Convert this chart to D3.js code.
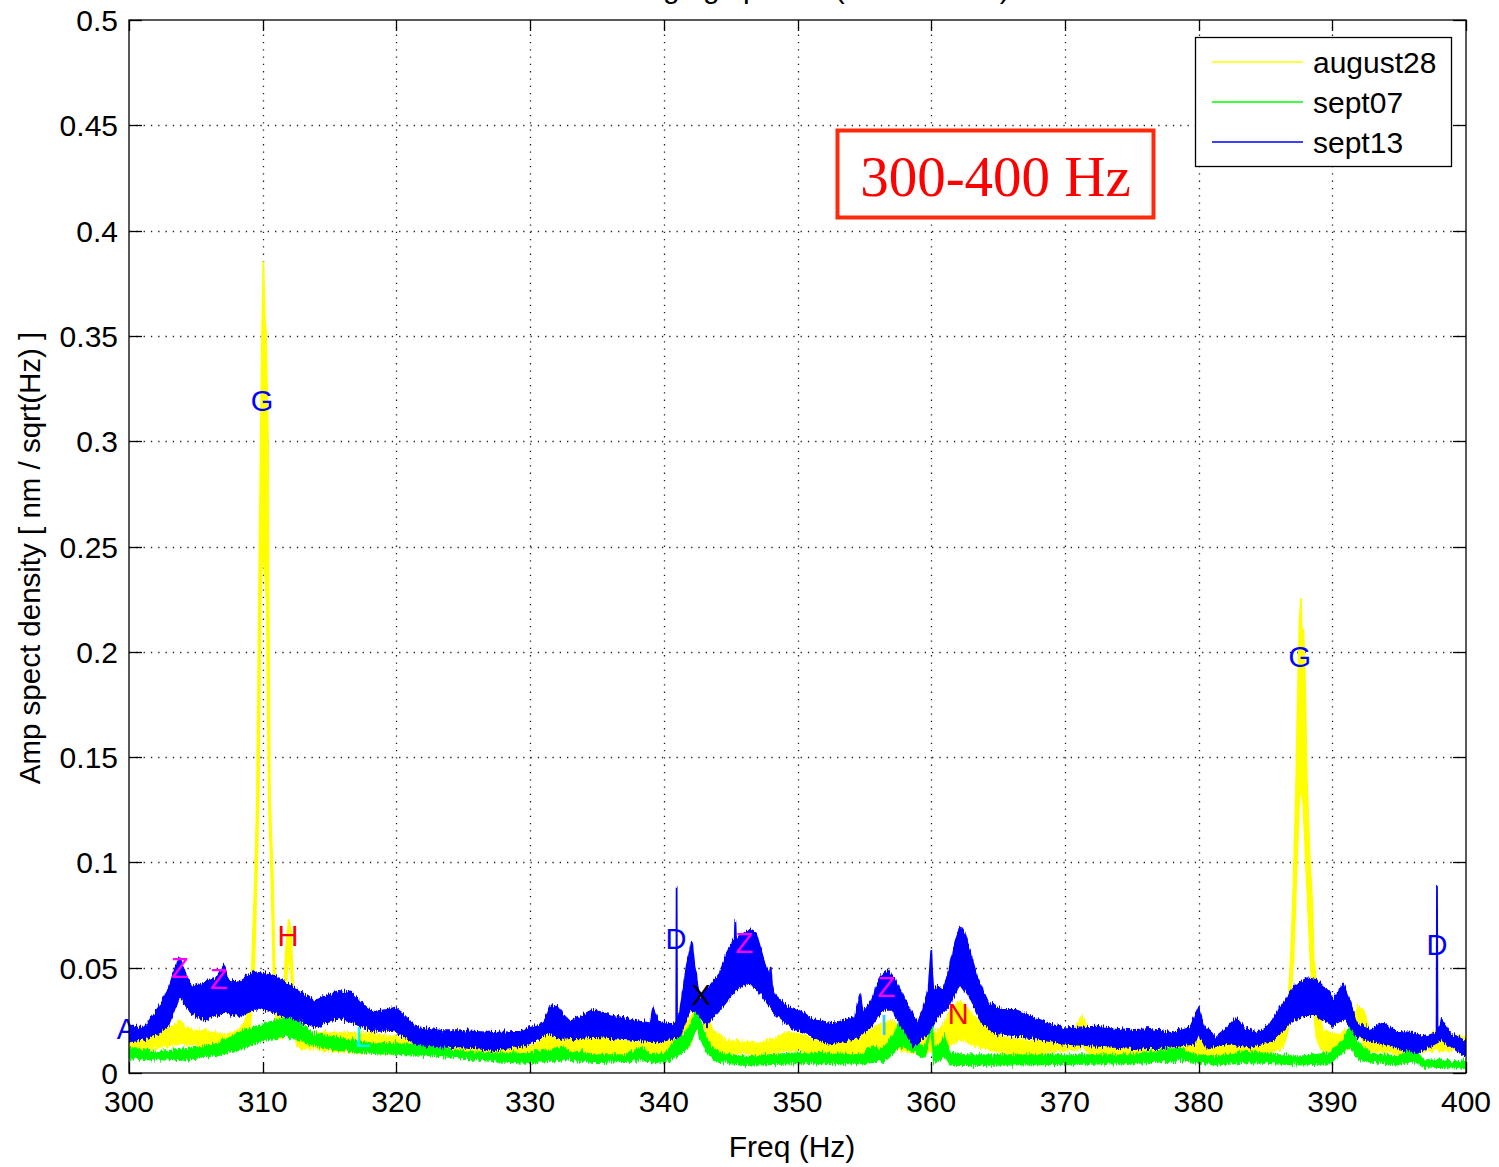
<!DOCTYPE html>
<html>
<head>
<meta charset="utf-8">
<script src="https://cdn.jsdelivr.net/npm/d3@7"></script>
<style>
  html, body { margin: 0; padding: 0; background: #fff; }
  svg { display: block; }
  text { font-family: "Liberation Sans", Arial, Helvetica, sans-serif; }
</style>
</head>
<body>
<svg id="chart" width="1499" height="1167"></svg>
<script>
// ---- axis ticks ----
const freqTicks = [300, 310, 320, 330, 340, 350, 360, 370, 380, 390, 400];
const ampTicks = [0, 0.05, 0.1, 0.15, 0.2, 0.25, 0.3, 0.35, 0.4, 0.45, 0.5];
const ampTickLabels = ["0", "0.05", "0.1", "0.15", "0.2", "0.25", "0.3", "0.35", "0.4", "0.45", "0.5"];

// ---- series: each spectrum as upper / lower envelope of its noisy trace, [Hz, nm/sqrt(Hz)] ----
const seriesNames = ["august28", "sept07", "sept13"];
const seriesColors = ["#ffff00", "#00ff00", "#0000ff"];

const august28Upper = [
  [300.0, 0.014], [301.2, 0.017], [302.2, 0.020], [303.3, 0.022], [303.8, 0.025], [304.3, 0.021],
  [305.7, 0.020], [307.2, 0.018], [308.0, 0.020], [308.5, 0.022], [308.9, 0.0285], [309.18, 0.049],
  [309.42, 0.092], [309.57, 0.13], [309.72, 0.225], [309.85, 0.30], [309.95, 0.35], [310.05, 0.385],
  [310.15, 0.36], [310.25, 0.35], [310.4, 0.30], [310.45, 0.225], [310.55, 0.13], [310.77, 0.092],
  [310.9, 0.049], [311.1, 0.035], [311.3, 0.030], [311.55, 0.035], [311.75, 0.06], [311.95, 0.0727],
  [312.1, 0.068], [312.3, 0.04], [312.5, 0.022], [313.5, 0.019], [316.0, 0.019], [318.0, 0.019],
  [320.0, 0.017], [322.0, 0.015], [324.3, 0.014], [324.6, 0.021], [324.9, 0.018], [326.0, 0.014],
  [327.25, 0.0133], [329.7, 0.0125], [330.5, 0.014], [331.2, 0.018], [332.2, 0.0165], [334.7, 0.0172],
  [337.2, 0.0149], [339.7, 0.014], [341.0, 0.0165], [342.2, 0.029], [342.9, 0.036], [343.6, 0.021],
  [344.7, 0.0157], [347.2, 0.014], [349.2, 0.019], [350.0, 0.019], [351.3, 0.0157], [353.6, 0.0172],
  [354.8, 0.018], [355.8, 0.022], [357.1, 0.025], [358.0, 0.020], [359.3, 0.019], [360.3, 0.019],
  [361.0, 0.0236], [361.6, 0.0315], [362.2, 0.034], [363.0, 0.0283], [364.0, 0.022], [365.3, 0.0172],
  [367.3, 0.0157], [369.8, 0.014], [370.8, 0.022], [371.3, 0.0267], [371.8, 0.021], [373.5, 0.0135],
  [374.9, 0.0157], [377.4, 0.0125], [379.8, 0.0157], [382.4, 0.0149], [384.8, 0.0172], [385.9, 0.019],
  [386.3, 0.022], [386.6, 0.027], [386.8, 0.043], [386.9, 0.055], [387.1, 0.09], [387.3, 0.139],
  [387.4, 0.174], [387.55, 0.215], [387.66, 0.225], [387.75, 0.20], [387.85, 0.21], [388.0, 0.174],
  [388.1, 0.139], [388.33, 0.0996], [388.5, 0.082], [388.6, 0.0553], [388.8, 0.043], [389.0, 0.030],
  [389.3, 0.020], [390.5, 0.018], [391.5, 0.022], [391.9, 0.032], [392.3, 0.030], [392.8, 0.020],
  [394.0, 0.018], [396.0, 0.015], [397.0, 0.017], [397.8, 0.020], [398.6, 0.015], [399.2, 0.018],
  [400.0, 0.017]
];
const august28Lower = [
  [300.0, 0.011], [302.2, 0.012], [303.8, 0.014], [305.7, 0.013], [307.2, 0.012], [308.4, 0.014],
  [309.0, 0.016], [309.35, 0.045], [309.55, 0.092], [309.7, 0.13], [309.85, 0.225], [310.0, 0.25],
  [310.3, 0.225], [310.45, 0.13], [310.65, 0.092], [310.8, 0.049], [311.0, 0.025], [311.2, 0.016],
  [311.5, 0.016], [311.8, 0.045], [311.98, 0.058], [312.15, 0.045], [312.35, 0.02], [312.6, 0.012],
  [316.0, 0.010], [320.0, 0.009], [325.0, 0.0094], [327.25, 0.0085], [330.0, 0.0085], [332.0, 0.0095],
  [335.0, 0.009], [340.0, 0.009], [341.8, 0.012], [342.5, 0.022], [342.9, 0.027], [343.3, 0.016],
  [344.0, 0.010], [347.0, 0.009], [350.0, 0.011], [352.0, 0.009], [355.0, 0.009], [357.0, 0.012],
  [359.0, 0.009], [361.0, 0.012], [362.2, 0.0157], [363.5, 0.0125], [365.0, 0.010], [367.3, 0.0085],
  [371.3, 0.012], [372.0, 0.009], [375.0, 0.0085], [380.0, 0.0085], [385.0, 0.009], [386.3, 0.012],
  [386.75, 0.022], [387.1, 0.055], [387.3, 0.09], [387.5, 0.125], [387.65, 0.14], [387.85, 0.125],
  [388.1, 0.09], [388.35, 0.055], [388.6, 0.03], [388.85, 0.016], [389.3, 0.010], [391.5, 0.012],
  [392.0, 0.018], [392.5, 0.011], [395.0, 0.009], [398.0, 0.011], [400.0, 0.010]
];

const sept07Upper = [
  [300.0, 0.0117], [302.2, 0.010], [304.7, 0.0117], [306.7, 0.014], [308.4, 0.0196], [310.2, 0.0236],
  [311.7, 0.026], [312.7, 0.0244], [313.7, 0.0189], [315.7, 0.0165], [318.2, 0.0141], [322.1, 0.0133],
  [324.76, 0.0101], [327.25, 0.0093], [329.7, 0.0093], [332.2, 0.0117], [332.5, 0.0125], [333.2, 0.009],
  [333.8, 0.0101], [334.7, 0.0085], [337.2, 0.0085], [338.3, 0.0125], [339.0, 0.0085], [340.0, 0.0093],
  [340.7, 0.014], [341.7, 0.0196], [342.2, 0.0252], [342.4, 0.030], [342.7, 0.025], [343.2, 0.0157],
  [343.9, 0.0101], [345.9, 0.0077], [350.0, 0.0094], [354.8, 0.0085], [355.55, 0.0125], [356.35, 0.011],
  [357.3, 0.0189], [357.55, 0.0236], [358.0, 0.0189], [358.7, 0.0157], [359.5, 0.012], [359.9, 0.0189],
  [360.0, 0.0315], [360.2, 0.011], [360.7, 0.014], [361.0, 0.018], [361.4, 0.0094], [362.2, 0.0085],
  [370.0, 0.0085], [374.9, 0.0085], [378.6, 0.0117], [379.8, 0.0085], [381.3, 0.0077], [383.5, 0.0101],
  [384.8, 0.0093], [387.3, 0.0077], [389.8, 0.0093], [390.8, 0.0157], [391.3, 0.022], [391.8, 0.0149],
  [392.8, 0.0093], [394.8, 0.0077], [396.1, 0.0117], [396.8, 0.0062], [400.0, 0.0055]
];
const sept07Lower = [
  [300.0, 0.007], [302.2, 0.0062], [304.7, 0.007], [306.7, 0.0085], [308.4, 0.0117], [310.2, 0.0157],
  [311.7, 0.0172], [312.7, 0.016], [313.7, 0.0133], [315.7, 0.0109], [318.2, 0.0094], [322.1, 0.0085],
  [325.4, 0.007], [327.25, 0.0055], [330.0, 0.0047], [332.5, 0.0065], [335.0, 0.005], [338.3, 0.006],
  [340.0, 0.0047], [341.7, 0.011], [342.5, 0.022], [342.7, 0.0172], [343.2, 0.0101], [343.9, 0.0055],
  [345.9, 0.0038], [350.0, 0.0046], [355.0, 0.0046], [356.5, 0.006], [357.5, 0.012], [358.0, 0.0125],
  [359.5, 0.007], [360.0, 0.022], [360.2, 0.005], [361.0, 0.008], [361.4, 0.004], [362.2, 0.0038],
  [370.0, 0.0042], [375.0, 0.0046], [378.6, 0.006], [381.3, 0.004], [384.0, 0.005], [387.3, 0.004],
  [389.8, 0.0045], [391.3, 0.013], [392.0, 0.006], [394.8, 0.004], [396.1, 0.006], [396.8, 0.003],
  [400.0, 0.0023]
];

const sept13Upper = [
  [300.0, 0.022], [301.2, 0.022], [302.2, 0.031], [302.9, 0.039], [303.5, 0.051], [303.8, 0.055],
  [304.2, 0.047], [304.7, 0.041], [305.7, 0.043], [306.5, 0.045], [307.1, 0.051], [307.4, 0.044],
  [308.2, 0.043], [309.0, 0.047], [309.7, 0.048], [310.5, 0.047], [311.2, 0.045], [312.0, 0.042],
  [312.7, 0.039], [313.9, 0.034], [314.8, 0.037], [315.7, 0.039], [316.7, 0.038], [317.4, 0.033],
  [318.2, 0.029], [319.3, 0.030], [319.9, 0.031], [320.5, 0.028], [321.4, 0.022], [323.4, 0.020],
  [325.4, 0.0198], [327.25, 0.019], [329.2, 0.0196], [331.0, 0.0236], [331.5, 0.0315], [332.0, 0.032],
  [332.5, 0.0275], [333.0, 0.0244], [333.7, 0.0267], [334.7, 0.030], [336.0, 0.0275], [337.7, 0.025],
  [339.0, 0.0236], [339.2, 0.0307], [339.6, 0.0244], [340.7, 0.0228], [340.93, 0.024], [340.96, 0.088],
  [340.99, 0.026], [341.2, 0.0283], [341.7, 0.0505], [342.1, 0.0624], [342.3, 0.0505], [342.7, 0.0347],
  [343.2, 0.0394], [344.2, 0.0473], [344.7, 0.0568], [345.3, 0.064], [345.35, 0.0718], [345.4, 0.064],
  [346.4, 0.0679], [346.9, 0.0663], [347.4, 0.0552], [347.9, 0.045], [348.0, 0.050], [348.1, 0.042],
  [348.2, 0.0378], [349.2, 0.0315], [350.0, 0.030], [351.3, 0.025], [352.8, 0.0236], [354.3, 0.0267],
  [354.7, 0.037], [354.9, 0.028], [355.55, 0.0347], [356.2, 0.0457], [356.8, 0.0489], [357.3, 0.0442],
  [357.8, 0.0378], [358.4, 0.030], [359.0, 0.0236], [359.4, 0.0307], [359.8, 0.0394], [360.0, 0.058],
  [360.15, 0.0394], [360.5, 0.041], [360.9, 0.039], [361.3, 0.048], [361.8, 0.0616], [362.15, 0.0695],
  [362.5, 0.0663], [363.0, 0.0552], [363.5, 0.0442], [364.3, 0.0331], [365.3, 0.030], [366.3, 0.030],
  [367.8, 0.026], [369.8, 0.0212], [372.3, 0.022], [374.9, 0.0204], [376.4, 0.021], [377.9, 0.019],
  [379.4, 0.022], [380.0, 0.0307], [380.4, 0.022], [381.3, 0.0172], [382.05, 0.021], [382.8, 0.026],
  [383.5, 0.021], [384.3, 0.019], [385.3, 0.0228], [386.0, 0.030], [386.8, 0.0378], [387.3, 0.0418],
  [388.1, 0.045], [388.8, 0.0442], [389.6, 0.0394], [390.1, 0.0347], [390.8, 0.0426], [391.3, 0.0347],
  [391.8, 0.0236], [392.8, 0.021], [393.8, 0.0236], [394.8, 0.0196], [396.1, 0.019], [396.8, 0.017],
  [397.8, 0.019], [397.83, 0.089], [397.87, 0.020], [398.2, 0.0252], [398.8, 0.019], [399.8, 0.0157],
  [400.0, 0.0155]
];
const sept13Lower = [
  [300.0, 0.015], [301.2, 0.016], [302.2, 0.019], [302.9, 0.022], [303.8, 0.037], [304.7, 0.028],
  [305.7, 0.025], [307.1, 0.029], [308.2, 0.027], [309.7, 0.031], [311.2, 0.028], [312.7, 0.025],
  [313.9, 0.022], [315.7, 0.026], [316.7, 0.024], [318.2, 0.020], [319.9, 0.020], [321.4, 0.014],
  [323.4, 0.0125], [325.4, 0.012], [327.25, 0.011], [329.7, 0.0133], [331.5, 0.019], [332.5, 0.0157],
  [334.7, 0.0172], [337.7, 0.0157], [339.7, 0.0149], [341.2, 0.0172], [341.95, 0.030], [342.45, 0.029],
  [343.2, 0.0228], [344.2, 0.030], [345.45, 0.040], [346.4, 0.0434], [347.4, 0.0362], [348.4, 0.0275],
  [349.6, 0.0212], [350.4, 0.0196], [352.3, 0.014], [354.3, 0.0157], [355.55, 0.0228], [356.35, 0.030],
  [357.1, 0.030], [357.8, 0.022], [358.7, 0.0125], [359.8, 0.0189], [360.5, 0.0267], [361.3, 0.0315],
  [362.15, 0.0426], [363.0, 0.0347], [363.8, 0.0236], [364.8, 0.0189], [367.3, 0.0172], [369.8, 0.014],
  [375.5, 0.0117], [377.4, 0.012], [379.7, 0.014], [380.0, 0.0189], [380.6, 0.012], [382.4, 0.014],
  [383.9, 0.0125], [385.6, 0.0157], [386.8, 0.0236], [387.9, 0.0275], [388.8, 0.0275], [390.0, 0.0228],
  [391.0, 0.026], [391.8, 0.0172], [393.8, 0.014], [396.3, 0.0094], [398.2, 0.0157], [399.8, 0.0085],
  [400.0, 0.0085]
];

// ---- peak annotations: letter, frequency, amplitude, colour ----
const peakLetters = ["A", "Z", "Z", "G", "H", "L", "D", "X", "Z", "Z", "I", "N", "G", "D"];
const peakFreqs   = [299.8, 303.81, 306.73, 309.95, 311.89, 317.5, 340.91, 342.8, 346.02, 356.64, 356.45, 362.03, 387.56, 397.82];
const peakAmps    = [0.0209, 0.0503, 0.0451, 0.3191, 0.0651, 0.0171, 0.0641, 0.0372, 0.062, 0.0412, 0.0232, 0.0283, 0.1979, 0.0612];
const peakColors  = ["#0000ff", "#ff00ff", "#ff00ff", "#0000ff", "#ff0000", "#00ffff", "#0000ff", "#000000", "#ff00ff", "#ff00ff", "#33ccff", "#ff0000", "#0000ff", "#0000ff"];

const titleText = "Averaging spectra (300-400 Hz)";
const boxNote = "300-400 Hz";
const xLabel = "Freq (Hz)";
const yLabel = "Amp spect density [ nm / sqrt(Hz) ]";

// ---- layout ----
const svg = d3.select("#chart");
const plotL = 129, plotR = 1466, plotT = 20, plotB = 1073;

const x = d3.scaleLinear().domain([300, 400]).range([plotL, plotR]);
const y = d3.scaleLinear().domain([0, 0.5]).range([plotB, plotT]);

// title (mostly above the visible area, as in the exported figure)
svg.append("text")
  .attr("x", (plotL + plotR) / 2).attr("y", -2)
  .attr("text-anchor", "middle")
  .attr("font-size", 30)
  .text(titleText);

// dotted grid
const grid = svg.append("g").attr("stroke", "#222").attr("stroke-width", 1.3).attr("stroke-dasharray", "1.3,6");
grid.selectAll("line.gx").data(freqTicks.slice(1, -1)).join("line")
  .attr("class", "gx")
  .attr("x1", d => Math.round(x(d)) + 0.5).attr("x2", d => Math.round(x(d)) + 0.5)
  .attr("y1", plotT).attr("y2", plotB);
grid.selectAll("line.gy").data(ampTicks.slice(1, -1)).join("line")
  .attr("class", "gy")
  .attr("y1", d => Math.round(y(d)) + 0.5).attr("y2", d => Math.round(y(d)) + 0.5)
  .attr("x1", plotL).attr("x2", plotR);

// defs: plot clip and a fine-grain roughening of the dense traces' outlines
const defs = svg.append("defs");
defs.append("clipPath").attr("id", "plotclip")
  .append("rect").attr("x", plotL).attr("y", plotT).attr("width", plotR - plotL).attr("height", plotB - plotT);
const rough = defs.append("filter").attr("id", "rough")
  .attr("filterUnits", "userSpaceOnUse")
  .attr("x", plotL - 10).attr("y", plotT - 10).attr("width", plotR - plotL + 20).attr("height", plotB - plotT + 20);
rough.append("feTurbulence").attr("type", "fractalNoise").attr("baseFrequency", "0.9 0.09")
  .attr("numOctaves", 2).attr("seed", 3).attr("result", "grain");
rough.append("feColorMatrix").attr("in", "grain").attr("type", "matrix")
  .attr("values", "0 0 0 0 0.5  0 1 0 0 0  0 0 1 0 0  0 0 0 0 1").attr("result", "vgrain");
rough.append("feDisplacementMap").attr("in", "SourceGraphic").attr("in2", "vgrain")
  .attr("scale", 9).attr("xChannelSelector", "R").attr("yChannelSelector", "G");

const band = d3.line().x(d => x(d[0])).y(d => y(d[1]));
const envelopes = [
  [august28Upper, august28Lower],
  [sept07Upper, sept07Lower],
  [sept13Upper, sept13Lower]
];
const dataG = svg.append("g").attr("clip-path", "url(#plotclip)")
  .append("g").attr("filter", "url(#rough)");
envelopes.forEach((env, i) => {
  const pts = env[0].concat(env[1].slice().reverse());
  dataG.append("path")
    .attr("d", band(pts) + "Z")
    .attr("fill", seriesColors[i])
    .attr("stroke", seriesColors[i])
    .attr("stroke-width", 1.8)
    .attr("stroke-linejoin", "round");
});

// peak letters
svg.append("g").selectAll("text").data(peakLetters).join("text")
  .attr("x", (d, i) => x(peakFreqs[i]))
  .attr("y", (d, i) => y(peakAmps[i]) + 10.5)
  .attr("text-anchor", "middle")
  .attr("font-size", 29)
  .attr("fill", (d, i) => peakColors[i])
  .text(d => d);

// frame and ticks (inward, on all four sides)
const axisG = svg.append("g").attr("stroke", "#000").attr("stroke-width", 1.3);
axisG.append("rect").attr("x", plotL).attr("y", plotT).attr("width", plotR - plotL).attr("height", plotB - plotT).attr("fill", "none");
freqTicks.forEach(t => {
  const px = Math.round(x(t)) + 0.5;
  axisG.append("line").attr("x1", px).attr("x2", px).attr("y1", plotB).attr("y2", plotB - 11);
  axisG.append("line").attr("x1", px).attr("x2", px).attr("y1", plotT).attr("y2", plotT + 11);
});
ampTicks.forEach(t => {
  const py = Math.round(y(t)) + 0.5;
  axisG.append("line").attr("y1", py).attr("y2", py).attr("x1", plotL).attr("x2", plotL + 13);
  axisG.append("line").attr("y1", py).attr("y2", py).attr("x1", plotR).attr("x2", plotR - 13);
});

// tick labels
svg.append("g").selectAll("text").data(freqTicks).join("text")
  .attr("x", d => x(d)).attr("y", plotB + 39)
  .attr("text-anchor", "middle").attr("font-size", 30)
  .text(d => d);
svg.append("g").selectAll("text").data(ampTicks).join("text")
  .attr("x", plotL - 11).attr("y", d => y(d) + 11)
  .attr("text-anchor", "end").attr("font-size", 30)
  .text((d, i) => ampTickLabels[i]);

// axis titles
svg.append("text").attr("x", 792).attr("y", 1157)
  .attr("text-anchor", "middle").attr("font-size", 30).text(xLabel);
svg.append("text")
  .attr("transform", "translate(40,558) rotate(-90)")
  .attr("text-anchor", "middle").attr("font-size", 29.5).text(yLabel);

// legend
const lg = svg.append("g");
lg.append("rect").attr("x", 1195.5).attr("y", 37.5).attr("width", 256).attr("height", 129)
  .attr("fill", "#fff").attr("stroke", "#000").attr("stroke-width", 1.3);
seriesNames.forEach((name, i) => {
  const ly = 62 + i * 40;
  lg.append("line").attr("x1", 1212).attr("x2", 1303).attr("y1", ly).attr("y2", ly)
    .attr("stroke", seriesColors[i]).attr("stroke-width", 1.3);
  lg.append("text").attr("x", 1313).attr("y", ly + 11).attr("font-size", 30).text(name);
});

// boxed note
svg.append("rect").attr("x", 837.5).attr("y", 130.5).attr("width", 316).attr("height", 87)
  .attr("fill", "#fff").attr("stroke", "#ff2a0a").attr("stroke-width", 4);
svg.append("text").attr("x", 995.5).attr("y", 196)
  .attr("text-anchor", "middle")
  .style("font-family", "'Liberation Serif', 'Times New Roman', serif")
  .attr("font-size", 57).attr("fill", "#ff0000")
  .text(boxNote);
</script>
</body>
</html>
